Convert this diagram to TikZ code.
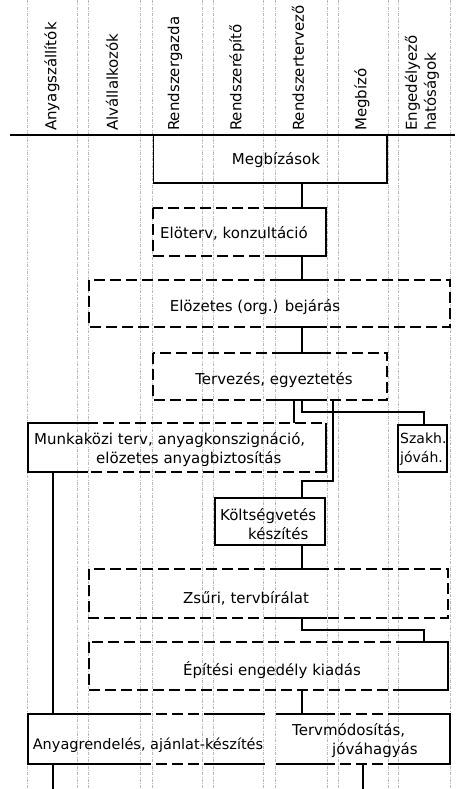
\documentclass[tikz,border=0pt]{standalone}
\usepackage{fontspec}
\setmainfont{DejaVu Sans}
\usetikzlibrary{fit}

\tikzset{
  lane/.style={gray!55, line width=0.4pt, dash pattern=on 3pt off 1.5pt on 0.6pt off 1.5pt},
  solidedge/.style={line width=1.6pt},
  dashededge/.style={line width=1.6pt, dash pattern=on 11pt off 5pt},
  conn/.style={line width=1.6pt},
  box/.style={inner sep=0pt, outer sep=0pt},
  lbl/.style={font=\fontsize{15}{19}\selectfont, inner sep=0pt},
  head/.style={lbl, rotate=90, anchor=west, align=left}
}

\begin{document}
\begin{tikzpicture}[x=1pt, y=-1pt]
\useasboundingbox (0,0) rectangle (455,789);

% draw lanes
\foreach \i/\a/\b in {1/27/77, 2/88/140, 3/152/202, 4/213/263, 5/275/327, 6/338/388, 7/398/450} {
  \coordinate (L\i) at (\a,0);
  \coordinate (R\i) at (\b,0);
  \draw[lane] (\a,0) -- (\a,789);
  \draw[lane] (\b,0) -- (\b,789);
}
\coordinate (c1) at (53,0);
\coordinate (c5) at (302,0);
\coordinate (c6) at (363,0);
\coordinate (c7) at (424,0);
\coordinate (k1) at (294,0);
\coordinate (k2) at (333,0);
\coordinate (foot) at (0,789);

% draw header
\node[head] (h1) at (52,131) {Anyagszállítók};
\node[head] (h2) at (112,131) {Alvállalkozók};
\node[head] (h3) at (175,131) {Rendszergazda};
\node[head] (h4) at (237,131) {Rendszerépítő};
\node[head] (h5) at (298,131) {Rendszertervező};
\node[head] (h6) at (362,131) {Megbízó};
\node[head] (h7) at (422,131) {Engedélyező\\hatóságok};
\coordinate (rulel) at (10,135);
\coordinate (ruler) at (455,135);
\draw[solidedge] (rulel) -- (ruler);

% draw Megbízások
\node[box, fit={(153,135) (387,183)}] (megb) {};
\node[lbl] (megb-t) at (276,160) {Megbízások};
\draw[solidedge] (megb.north east) -- (megb.south east) -- (megb.south west);
\draw[line width=0.5pt] (megb.south west) -- (megb.north west);

% draw Előterv
\node[box, fit={(153,208) (326,256)}] (eloterv) {};
\node[lbl] (eloterv-t) at (234,233) {Elöterv, konzultáció};
\draw[dashededge] (eloterv.north west) rectangle (eloterv.south east);
\draw[solidedge] (eloterv.north -| L5) -- (eloterv.north east) -- (eloterv.south east) -- (eloterv.south -| L5);

% draw Előzetes bejárás
\node[box, fit={(89,280) (450,327)}] (elozetes) {};
\node[lbl] (elozetes-t) at (255,307) {Elözetes (org.) bejárás};
\draw[dashededge] (elozetes.north west) rectangle (elozetes.south east);
\draw[solidedge] (elozetes.north -| L5) -- (elozetes.north -| R5) (elozetes.south -| L5) -- (elozetes.south -| R5);

% draw Tervezés
\node[box, fit={(153,353) (387,400)}] (tervezes) {};
\node[lbl] (tervezes-t) at (274,380) {Tervezés, egyeztetés};
\draw[dashededge] (tervezes.north west) rectangle (tervezes.south east);
\draw[solidedge] (tervezes.north -| L5) -- (tervezes.north -| R5) (tervezes.south -| L5) -- (tervezes.south -| R5);

% draw Munkaközi terv
\node[box, fit={(28,423) (326,472)}] (munka) {};
\node[lbl, anchor=west, align=left] (munka-t) at (34,449.5) {Munkaközi terv, anyagkonszignáció,\\\hspace*{62pt}elözetes anyagbiztosítás};
\draw[dashededge] (munka.north west) rectangle (munka.south east);
\draw[solidedge] (munka.north -| L2) -- (munka.north west) -- (munka.south west) -- (munka.south -| L2);
\draw[solidedge] (munka.north east) -- (munka.south east);

% draw Szakh. jóváh.
\node[box, fit={(398,425) (447,472)}] (szakh) {};
\node[lbl, font=\fontsize{14}{19}\selectfont, anchor=west, align=left] (szakh-t) at (400,449.5) {Szakh.\\jóváh.};
\draw[solidedge] (szakh.north west) rectangle (szakh.south east);

% draw Költségvetés
\node[box, fit={(215,498) (325,545)}] (kolts) {};
\node[lbl, anchor=west, align=left] (kolts-t) at (220,524) {Költségvetés\\\hspace*{28pt}készítés};
\draw[solidedge] (kolts.north west) rectangle (kolts.south east);

% draw Zsűri
\node[box, fit={(89,569) (448,618)}] (zsuri) {};
\node[lbl] (zsuri-t) at (246,598) {Zsűri, tervbírálat};
\draw[dashededge] (zsuri.north west) rectangle (zsuri.south east);
\draw[solidedge] (zsuri.north -| L5) -- (zsuri.north -| R5) (zsuri.south -| L5) -- (zsuri.south -| R5);

% draw Építési engedély
\node[box, fit={(89,642) (448,690)}] (epitesi) {};
\node[lbl] (epitesi-t) at (272,670) {Építési engedély kiadás};
\draw[dashededge] (epitesi.north west) rectangle (epitesi.south east);
\draw[solidedge] (epitesi.north -| L7) -- (epitesi.north east) -- (epitesi.south east) -- (epitesi.south -| L7);

% draw Anyagrendelés
\node[box, fit={(28,714) (265,764)}] (anyag) {};
\node[lbl, font=\fontsize{14.5}{19}\selectfont] (anyag-t) at (148,745) {Anyagrendelés, ajánlat-készítés};
\draw[dashededge] (anyag.north west) -- (anyag.north east) (anyag.south west) -- (anyag.south east);
\draw[solidedge] (anyag.north -| R2) -- (anyag.north west) -- (anyag.south west) -- (anyag.south -| R2);
\draw[solidedge] (anyag.north -| L4) -- (anyag.north east) (anyag.south -| L4) -- (anyag.south east);

% draw Tervmódosítás
\node[box, fit={(276,714) (450,764)}] (tervmod) {};
\node[lbl, anchor=west, align=left] (tervmod-t) at (292,741) {Tervmódosítás,\\\hspace*{40pt}jóváhagyás};
\draw[dashededge] (tervmod.north west) -- (tervmod.north east) (tervmod.south west) -- (tervmod.south east);
\draw[solidedge] (tervmod.north west) -- (tervmod.north -| R5) (tervmod.south west) -- (tervmod.south -| R5);
\draw[solidedge] (tervmod.north -| L7) -- (tervmod.north east) -- (tervmod.south east) -- (tervmod.south -| L7);

% draw connectors
\draw[conn] (megb.south -| c5) -- (eloterv.north -| c5);
\draw[conn] (eloterv.south -| c5) -- (elozetes.north -| c5);
\draw[conn] (elozetes.south -| c5) -- (tervezes.north -| c5);
\draw[conn] (tervezes.south -| k1) -- (munka.north -| k1);
\draw[conn] (tervezes.south -| c5) -- ++(0,12) -| (szakh.north -| c7);
\draw[conn] (tervezes.south -| k2) -- ++(0,81) -| (kolts.north -| c5);
\draw[conn] (kolts.south -| c5) -- (zsuri.north -| c5);
\draw[conn] (munka.south -| c1) -- (anyag.north -| c1);
\draw[conn] (zsuri.south -| c5) -- ++(0,12) -| (epitesi.north -| c7);
\draw[conn] (epitesi.south -| c5) -- (tervmod.north -| c5);
\draw[conn] (anyag.south -| c1) -- (foot -| c1);
\draw[conn] (tervmod.south -| c6) -- (foot -| c6);

\end{tikzpicture}
\end{document}
